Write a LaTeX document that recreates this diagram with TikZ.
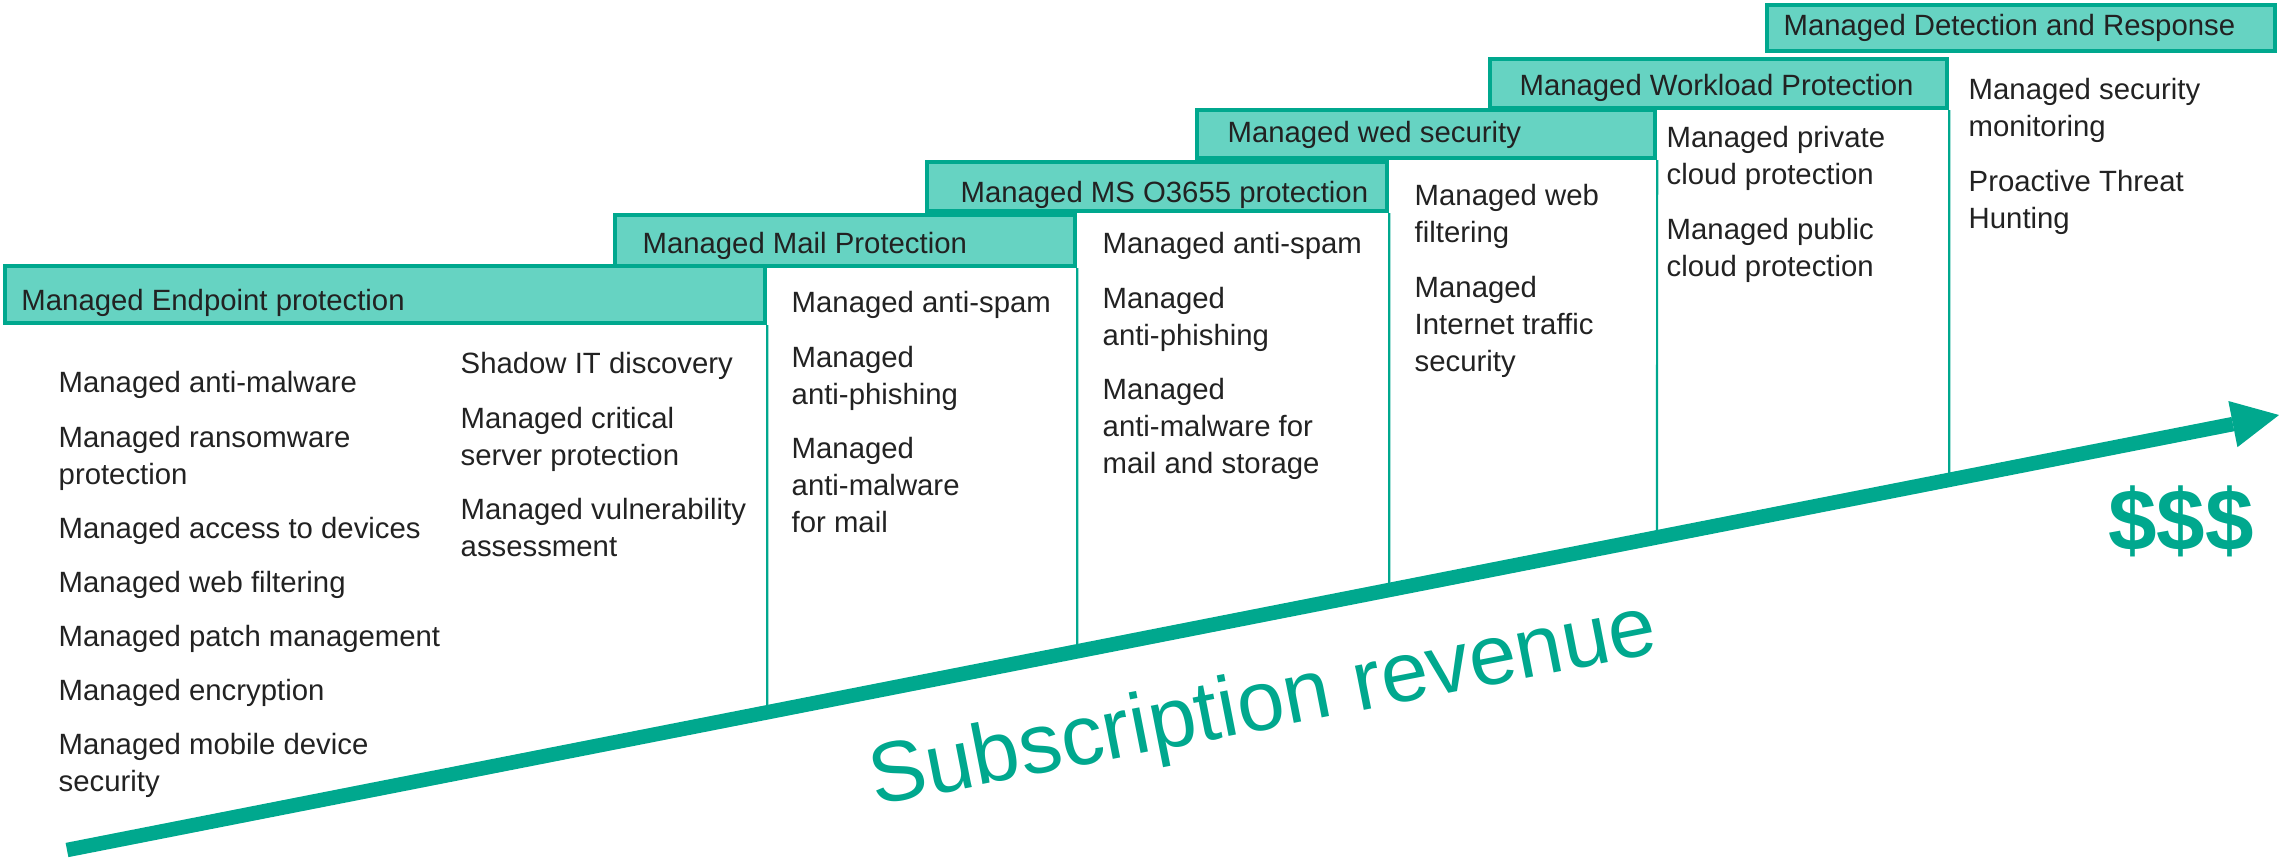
\documentclass[tikz,border=0pt]{standalone}
\usepackage{fontspec}
\setmainfont{Liberation Sans}
\usetikzlibrary{arrows.meta,positioning,calc}
\definecolor{kgreen}{HTML}{00A88E}
\definecolor{klight}{HTML}{66D3C2}
\definecolor{ktext}{HTML}{222222}
\newcommand{\nextitem}{\\[0.17cm]}
\tikzset{
    tier/.style={rectangle,draw=kgreen,fill=klight,line width=0.04cm,inner sep=0pt},
    tierlabel/.style={anchor=base west,inner sep=0pt,text=ktext,font=\fontsize{8.34pt}{10.5pt}\selectfont},
    itemlist/.style={anchor=north west,inner sep=0pt,align=left,text=ktext,font=\fontsize{8.34pt}{10.53pt}\selectfont},
    divider/.style={draw=kgreen,line width=0.022cm}
}

\begin{document}
\begin{tikzpicture}[x=0.01cm,y=-0.01cm]
    \useasboundingbox (0,0) rectangle (2279,857);

    % tiers, lowest first
    \node[tier,minimum width=7.6cm,minimum height=0.57cm] (endpoint) at (385,294.5) {};
    \node[tier,minimum width=4.6cm,minimum height=0.51cm] (mail) at (845,240.5) {};
    \node[tier,minimum width=4.6cm,minimum height=0.49cm] (o365) at (1157,186.5) {};
    \node[tier,minimum width=4.58cm,minimum height=0.48cm] (websec) at (1426,134) {};
    \node[tier,minimum width=4.57cm,minimum height=0.49cm] (workload) at (1718.5,83.5) {};
    \node[tier,minimum width=5.08cm,minimum height=0.46cm] (mdr) at (2021,28) {};

    \node[tierlabel] (endpointlab) at ($(endpoint.west)+(18,15.5)$) {Managed Endpoint protection};
    \node[tierlabel] (maillab) at ($(mail.west)+(29,12.5)$) {Managed Mail Protection};
    \node[tierlabel] (o365lab) at ($(o365.west)+(35,15.5)$) {Managed MS O3655 protection};
    \node[tierlabel] (webseclab) at ($(websec.west)+(32,8)$) {Managed wed security};
    \node[tierlabel] (workloadlab) at ($(workload.west)+(31,11.5)$) {Managed Workload Protection};
    \node[tierlabel] (mdrlab) at ($(mdr.west)+(18,7)$) {Managed Detection and Response};

    % revenue arrow
    \coordinate (revstart) at (67,850);
    \coordinate (revtip) at (2279,415);
    \foreach \t in {endpoint,mail,o365,websec,workload}
        \draw[divider] (\t.south east) -- (intersection of \t.south east--\t.north east and revstart--revtip);
    \draw[kgreen,line width=0.145cm,-{Triangle[length=0.47cm,width=0.47cm,line width=0pt]}] (revstart) -- (revtip);

    \node[rotate=11.1,anchor=base,inner sep=0pt,text=kgreen,font=\fontsize{24.2pt}{29pt}\selectfont] (revenue) at (1268,729) {Subscription revenue};
    \node[anchor=base,inner sep=0pt,text=kgreen,font=\fontsize{24.8pt}{30pt}\selectfont\bfseries] (dollars) at (2181,550) {\$\$\$};

    % services per tier (top of first line)
    \node[itemlist] (col1) at (58,371) {Managed anti-malware\nextitem
        Managed ransomware\\protection\nextitem
        Managed access to devices\nextitem
        Managed web filtering\nextitem
        Managed patch management\nextitem
        Managed encryption\nextitem
        Managed mobile device\\security};
    \node[itemlist] (col2) at (460,352) {Shadow IT discovery\nextitem
        Managed critical\\server protection\nextitem
        Managed vulnerability\\assessment};
    \node[itemlist] (col3) at (791,291) {Managed anti-spam\nextitem
        Managed\\anti-phishing\nextitem
        Managed\\anti-malware\\for mail};
    \node[itemlist] (col4) at (1102,232) {Managed anti-spam\nextitem
        Managed\\anti-phishing\nextitem
        Managed\\anti-malware for\\mail and storage};
    \node[itemlist] (col5) at (1414,184) {Managed web\\filtering\nextitem
        Managed\\Internet traffic\\security};
    \node[itemlist] (col6) at (1666,126) {Managed private\\cloud protection\nextitem
        Managed public\\cloud protection};
    \node[itemlist] (col7) at (1968,78) {Managed security\\monitoring\nextitem
        Proactive Threat\\Hunting};
\end{tikzpicture}
\end{document}
